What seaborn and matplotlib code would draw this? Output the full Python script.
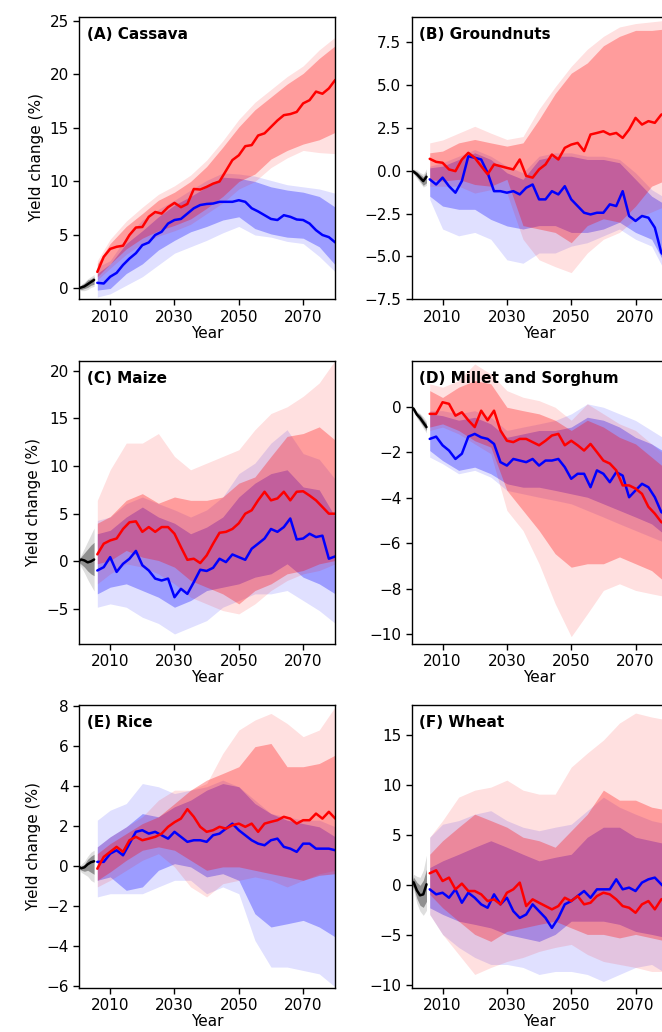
import numpy as np
import pandas as pd
import matplotlib
matplotlib.use("Agg")
import matplotlib.pyplot as plt
import seaborn as sns

# ---------------- data ----------------
hist_years = [2000, 2001, 2002, 2003, 2004, 2005]
line_years = list(range(2006, 2081, 2))
band_years = [2006, 2010, 2015, 2020, 2025, 2030, 2035, 2040, 2045, 2050, 2055, 2060, 2065, 2070, 2075, 2080]

titles = ["(A) Cassava", "(B) Groundnuts", "(C) Maize", "(D) Millet and Sorghum", "(E) Rice", "(F) Wheat"]
ylims = [(-1.0, 25.4), (-7.5, 9.0), (-8.6, 21.0), (-10.4, 2.0), (-6.05, 8.05), (-10.2, 18.0)]
yticks = [[0, 5, 10, 15, 20, 25], [-7.5, -5.0, -2.5, 0.0, 2.5, 5.0, 7.5], [-5, 0, 5, 10, 15, 20],
          [-10, -8, -6, -4, -2, 0], [-6, -4, -2, 0, 2, 4, 6, 8], [-10, -5, 0, 5, 10, 15]]
xticks = [2010, 2030, 2050, 2070]

# ---- (A) Cassava ----
A_hist = [0, 0.1, 0.2, 0.4, 0.6, 0.8]
A_hist_in = ([0, -0.1, 0.0, 0.1, 0.3, 0.4], [0, 0.3, 0.5, 0.8, 0.9, 1.1])
A_hist_out = ([0, -0.2, -0.2, -0.1, 0.1, 0.2], [0, 0.4, 0.6, 0.9, 1.1, 1.3])
A_red = [1.55, 2.96, 3.7, 3.9, 4.0, 5.0, 5.7, 5.75, 6.7, 7.15, 7.0, 7.6, 8.0, 7.6, 7.9, 9.3, 9.25, 9.5, 9.8,
         10.0, 11.0, 12.0, 12.45, 13.3, 13.4, 14.3, 14.5, 15.1, 15.7, 16.2, 16.3, 16.5, 17.3, 17.6, 18.4, 18.2, 18.7, 19.5]
A_blue = [0.53, 0.47, 1.1, 1.46, 2.2, 2.8, 3.3, 4.05, 4.3, 5.0, 5.3, 6.07, 6.4, 6.5, 7.0, 7.5, 7.8, 7.9, 7.94,
          8.1, 8.1, 8.1, 8.25, 8.1, 7.5, 7.2, 6.85, 6.5, 6.4, 6.85, 6.7, 6.45, 6.4, 6.07, 5.45, 5.0, 4.8, 4.3]
A_red_in = ([1.1, 2.3, 3.7, 4.7, 5.4, 5.9, 6.5, 7.5, 8.6, 10.0, 10.7, 12.1, 12.9, 13.5, 13.9, 14.6],
            [2.3, 4.2, 5.8, 7.0, 8.25, 9.0, 10.0, 11.4, 13.2, 15.1, 16.7, 17.9, 19.1, 20.1, 21.5, 22.7])
A_red_out = ([0.8, 1.9, 3.2, 4.2, 4.9, 5.4, 6.0, 7.0, 8.0, 9.3, 10.0, 11.3, 12.2, 12.9, 12.7, 12.6],
             [2.6, 4.6, 6.3, 7.6, 8.8, 9.6, 10.6, 12.0, 13.8, 15.8, 17.4, 18.6, 19.8, 20.8, 22.3, 23.5])
A_blue_in = ([-0.15, 0.0, 1.4, 2.3, 3.6, 4.5, 5.3, 5.8, 6.4, 6.7, 5.6, 5.1, 4.8, 4.7, 3.9, 2.2],
             [1.4, 2.3, 4.2, 5.4, 6.7, 7.8, 8.6, 9.5, 10.4, 10.3, 10.0, 9.5, 9.2, 9.0, 8.6, 7.6])
A_blue_out = ([-0.8, -0.5, 0.3, 1.1, 2.2, 3.3, 3.9, 4.5, 5.2, 5.8, 5.0, 4.8, 4.4, 4.2, 3.0, 1.55],
              [2.0, 2.6, 4.8, 6.4, 7.4, 8.25, 9.2, 10.1, 10.8, 10.7, 10.5, 10.1, 9.7, 9.5, 9.3, 8.9])

# ---- (B) Groundnuts ----
B_hist = [0, -0.05, -0.2, -0.4, -0.6, -0.35]
B_hist_in = ([0, -0.15, -0.35, -0.6, -0.85, -0.7], [0, 0.05, -0.05, -0.2, -0.35, -0.05])
B_hist_out = ([0, -0.2, -0.45, -0.7, -0.95, -0.85], [0, 0.1, 0.05, -0.1, -0.2, 0.1])
B_red = [0.7, 0.52, 0.47, 0.08, -0.02, 0.66, 1.05, 0.76, 0.27, -0.2, 0.37, 0.27, 0.17, 0.08, 0.66, -0.3, -0.4,
         0.08, 0.37, 0.95, 0.66, 1.34, 1.53, 1.63, 1.15, 2.12, 2.21, 2.31, 2.12, 2.21, 1.92, 2.41, 3.09, 2.7, 2.9, 2.8, 3.28, 3.4]
B_blue = [-0.5, -0.8, -0.4, -0.9, -1.28, -0.6, 0.85, 0.76, 0.66, -0.12, -1.19, -1.19, -1.28, -1.19, -1.38, -0.99,
          -0.8, -1.67, -1.67, -1.19, -1.38, -0.9, -1.67, -2.06, -2.45, -2.55, -2.45, -2.45, -1.96, -2.06, -1.19,
          -2.64, -2.93, -2.64, -2.74, -3.32, -4.78, -5.2]
B_red_in = ([-0.5, -0.6, -0.5, -0.8, -0.9, -0.5, -3.2, -3.4, -3.6, -4.2, -3.2, -2.8, -3.0, -2.06, -0.9, -0.5],
            [1.05, 1.15, 1.63, 1.83, 1.63, 1.44, 1.63, 3.0, 4.5, 5.7, 6.3, 7.3, 7.85, 8.2, 8.2, 8.3])
B_red_out = ([-0.9, -0.9, -0.9, -1.3, -1.1, -1.3, -4.0, -5.2, -5.6, -5.95, -4.8, -4.0, -3.6, -2.8, -2.4, -2.0],
             [1.63, 1.8, 2.2, 2.6, 2.2, 1.83, 2.0, 3.6, 4.9, 6.1, 7.1, 7.85, 8.4, 8.6, 8.7, 8.8])
B_blue_in = ([-1.48, -2.06, -2.25, -2.25, -2.84, -3.22, -3.4, -3.2, -3.2, -3.6, -3.6, -3.4, -3.0, -3.6, -4.0, -5.75],
             [0.17, 0.27, 0.66, 1.05, 0.66, -0.12, -0.5, 0.66, 0.85, 0.85, 0.66, 0.66, 0.47, -0.5, -1.48, -2.06])
B_blue_out = ([-1.67, -3.4, -3.8, -3.6, -4.0, -5.2, -5.4, -4.8, -4.8, -4.4, -4.2, -3.8, -3.4, -4.0, -4.4, -6.2],
              [0.27, 0.47, 0.85, 1.24, 0.85, 0.27, -0.12, 0.85, 1.05, 1.05, 0.85, 0.85, 0.66, -0.12, -1.1, -1.67])

# ---- (C) Maize ----
C_hist = [0, 0.2, 0.1, -0.1, 0.0, 0.2]
C_hist_in = ([0, -0.3, -0.6, -1.0, -1.3, -1.5], [0, 0.5, 0.9, 1.3, 1.7, 2.0])
C_hist_out = ([0, -0.6, -1.2, -1.9, -2.5, -3.1], [0, 0.7, 1.4, 2.1, 2.8, 3.5])
C_red = [0.74, 1.86, 2.2, 2.4, 3.4, 4.1, 4.2, 3.1, 3.6, 3.1, 3.6, 3.6, 2.9, 1.5, 0.17, 0.28, -0.17, 0.63, 1.86,
         3.0, 3.1, 3.4, 4.0, 5.0, 5.36, 6.4, 7.3, 6.4, 6.6, 7.3, 6.4, 7.3, 7.35, 6.9, 6.4, 5.7, 5.0, 5.0]
C_blue = [-0.95, -0.6, 0.45, -1.1, -0.25, 0.28, 1.1, -0.4, -0.95, -1.8, -2.0, -1.8, -3.75, -2.87, -3.4, -2.17,
          -0.87, -1.0, -0.67, 0.28, -0.07, 0.73, 0.45, 0.17, 1.33, 1.86, 2.4, 3.4, 3.1, 3.6, 4.5, 2.3, 2.4, 2.9,
          2.55, 2.7, 0.28, 0.53]
C_red_in = ([-0.25, 0.1, 1.15, 0.45, 0.1, -0.6, -2.0, -2.7, -3.4, -4.45, -3.05, -2.35, -1.3, -0.95, -0.25, 0.1],
            [4.0, 4.7, 6.4, 7.1, 6.1, 6.75, 6.4, 6.4, 6.75, 8.2, 8.85, 11.0, 13.1, 13.4, 14.1, 12.7])
C_red_out = ([-2.35, -1.3, -0.25, -0.6, -1.3, -2.35, -3.75, -4.45, -5.15, -5.5, -4.45, -3.05, -2.0, -1.3, -0.95, -0.25],
             [6.4, 9.6, 12.4, 12.4, 13.4, 11.0, 9.6, 10.3, 11.0, 11.7, 13.8, 15.5, 16.2, 17.3, 18.7, 21.1])
C_blue_in = ([-3.4, -2.7, -2.35, -3.05, -3.75, -4.8, -4.1, -3.05, -2.7, -2.35, -1.65, -1.3, -0.25, -1.65, -2.35, -3.4],
             [2.9, 3.26, 4.65, 5.7, 4.65, 4.0, 2.9, 3.6, 4.65, 6.75, 8.2, 9.2, 9.6, 7.8, 7.5, 4.65])
C_blue_out = ([-4.8, -4.45, -4.8, -5.85, -6.5, -7.6, -6.9, -6.2, -4.8, -4.1, -3.4, -3.4, -3.05, -4.1, -5.15, -6.5],
              [4.3, 4.65, 6.05, 6.75, 6.05, 5.4, 4.65, 5.4, 6.75, 9.2, 10.3, 12.4, 13.8, 11.3, 10.7, 8.6])

# ---- (D) Millet and Sorghum ----
D_hist = [0, -0.1, -0.35, -0.5, -0.7, -0.9]
D_hist_in = ([0, -0.15, -0.45, -0.65, -0.85, -1.05], [0, -0.05, -0.25, -0.35, -0.55, -0.75])
D_hist_out = ([0, -0.2, -0.5, -0.7, -0.95, -1.15], [0, 0.0, -0.2, -0.3, -0.45, -0.65])
D_red = [-0.32, -0.32, 0.19, 0.12, -0.4, -0.25, -0.6, -0.9, -0.18, -0.6, -0.18, -1.05, -1.5, -1.56, -1.42, -1.42,
         -1.56, -1.7, -1.5, -1.27, -1.2, -1.7, -1.5, -1.7, -1.93, -1.64, -2.0, -2.37, -2.5, -2.8, -3.46, -3.46,
         -3.6, -3.83, -4.4, -4.7, -5.07, -5.2]
D_blue = [-1.42, -1.32, -1.7, -1.93, -2.3, -2.07, -1.32, -1.2, -1.35, -1.42, -1.64, -2.44, -2.59, -2.3, -2.37,
          -2.44, -2.3, -2.59, -2.37, -2.37, -2.3, -2.66, -3.17, -2.95, -2.95, -3.54, -2.8, -2.95, -3.32, -2.88,
          -3.03, -3.98, -3.68, -3.39, -3.54, -3.98, -4.63, -4.8]
D_red_in = ([-0.9, -0.76, -1.05, -1.5, -1.78, -3.68, -4.56, -5.44, -6.46, -7.05, -6.9, -6.9, -6.6, -6.9, -7.2, -7.8],
            [0.7, 0.4, 0.85, 1.14, 1.0, -0.03, -0.18, -0.32, -0.6, -1.05, -0.6, -0.9, -1.35, -1.64, -2.22, -2.8])
D_red_out = ([-1.05, -0.9, -1.2, -1.64, -2.07, -4.56, -5.44, -6.9, -8.65, -10.1, -9.1, -8.07, -7.78, -8.07, -8.22, -8.36],
             [1.0, 0.85, 1.14, 1.87, 1.43, 0.7, 0.41, 0.26, -0.03, -0.6, 0.12, -0.32, -0.76, -1.05, -1.64, -2.22])
D_blue_in = ([-1.93, -2.37, -2.8, -2.66, -2.95, -3.39, -3.54, -3.54, -3.68, -3.83, -3.98, -4.27, -4.56, -4.85, -5.15, -5.73],
             [-0.32, -0.4, -0.6, -0.47, -0.76, -1.35, -1.2, -1.05, -1.05, -0.9, -0.47, -0.6, -0.9, -1.35, -1.64, -2.07])
D_blue_out = ([-2.22, -2.51, -2.95, -2.8, -3.1, -3.68, -3.83, -3.98, -4.12, -4.27, -4.56, -4.85, -5.15, -5.44, -5.73, -6.02],
              [-0.18, -0.18, -0.32, -0.18, -0.47, -1.05, -0.9, -0.76, -0.61, -0.32, 0.12, -0.03, -0.32, -0.61, -1.05, -1.49])

# ---- (E) Rice ----
E_hist = [0, -0.1, -0.05, 0.1, 0.2, 0.25]
E_hist_in = ([0, -0.2, -0.25, -0.2, -0.3, -0.4], [0, 0.0, 0.1, 0.35, 0.5, 0.6])
E_hist_out = ([0, -0.3, -0.4, -0.5, -0.7, -0.8], [0, 0.1, 0.25, 0.5, 0.7, 0.8])
E_red = [-0.12, 0.47, 0.72, 0.97, 0.72, 1.3, 1.47, 1.3, 1.38, 1.47, 1.63, 1.97, 2.2, 2.38, 2.85, 2.47, 1.97,
         1.72, 1.8, 1.97, 1.88, 2.05, 2.13, 1.97, 2.13, 1.72, 2.13, 2.22, 2.3, 2.47, 2.38, 2.13, 2.3, 2.3, 2.63,
         2.38, 2.72, 2.38]
E_blue = [0.22, 0.22, 0.63, 0.8, 0.55, 1.13, 1.72, 1.8, 1.63, 1.72, 1.55, 1.38, 1.72, 1.47, 1.22, 1.3, 1.3, 1.22,
          1.55, 1.63, 1.88, 2.13, 1.8, 1.55, 1.3, 1.13, 1.05, 1.3, 1.38, 0.97, 0.88, 0.72, 1.13, 1.13, 0.88, 0.88,
          0.88, 0.8]
E_red_in = ([-0.7, -0.28, 0.3, 0.8, 0.97, 0.8, 0.3, -0.2, -0.03, -0.03, -0.2, -0.37, -0.53, -0.7, -0.45, -0.37],
            [0.63, 1.13, 1.63, 2.13, 2.47, 3.13, 3.8, 4.3, 4.63, 4.97, 5.97, 6.13, 4.97, 4.97, 5.13, 5.55])
E_red_out = ([-1.03, -0.7, -0.2, 0.3, 0.63, -0.03, -1.03, -1.53, -0.87, -0.7, -0.53, -0.7, -1.03, -0.7, -0.37, -0.2],
             [0.97, 1.47, 1.97, 2.47, 3.3, 3.8, 3.8, 4.13, 5.63, 6.8, 7.3, 7.63, 7.13, 6.47, 6.8, 7.97])
E_blue_in = ([-0.7, -0.53, -1.2, -1.03, -0.2, 0.13, -0.03, -0.53, -0.37, -0.7, -2.37, -3.03, -2.87, -2.7, -3.03, -3.53],
             [0.97, 1.47, 1.97, 2.63, 2.47, 2.97, 3.3, 3.8, 4.13, 3.97, 3.13, 2.63, 2.3, 2.13, 1.97, 1.47])
E_blue_out = ([-1.53, -1.37, -1.37, -1.37, -1.03, -0.7, -0.7, -1.37, -1.03, -1.37, -3.7, -5.03, -5.03, -5.2, -5.37, -6.03],
              [2.3, 2.8, 3.13, 4.13, 3.97, 3.63, 3.8, 3.97, 4.3, 3.97, 3.3, 2.63, 2.47, 2.3, 2.3, 1.97])

# ---- (F) Wheat ----
F_hist = [0, 0.3, -0.5, -1.0, -0.9, 0.1]
F_hist_in = ([0, -0.2, -1.3, -2.0, -2.2, -1.6], [0, 0.8, 0.3, 0.0, 0.5, 1.6])
F_hist_out = ([0, -0.5, -1.8, -2.6, -3.0, -2.5], [0, 1.1, 0.9, 0.8, 1.5, 3.0])
F_red = [1.2, 1.5, 0.43, 0.77, -0.4, 0.17, -0.57, -0.57, -0.9, -1.57, -1.4, -1.9, -0.74, -0.4, 0.27, -2.07, -1.4,
         -1.74, -2.07, -2.4, -2.07, -1.24, -1.57, -1.07, -1.9, -1.74, -1.07, -0.74, -0.9, -1.4, -2.07, -2.24,
         -2.74, -1.9, -1.57, -2.4, -1.4, -1.2]
F_blue = [-0.4, -0.9, -0.74, -1.24, -0.4, -1.74, -0.74, -1.24, -1.9, -2.24, -0.9, -1.9, -1.24, -2.58, -3.25,
          -2.91, -1.9, -2.58, -3.25, -4.25, -3.25, -1.9, -1.57, -1.07, -0.57, -1.24, -0.4, -0.4, -0.4, 0.6, -0.4,
          -0.23, -0.57, 0.27, 0.6, 0.77, 0.1, -0.5]
F_red_in = ([-0.9, -2.24, -3.58, -4.9, -5.6, -4.6, -4.25, -3.9, -3.58, -4.25, -4.9, -4.9, -5.25, -4.9, -5.25, -5.6],
            [3.1, 4.45, 5.8, 7.1, 6.46, 5.8, 4.8, 4.45, 3.8, 5.45, 7.1, 9.5, 8.5, 8.5, 7.8, 7.5])
F_red_out = ([-2.91, -4.9, -6.9, -8.9, -8.2, -7.6, -7.2, -6.6, -6.2, -5.9, -6.9, -7.6, -7.9, -8.2, -8.6, -8.6],
             [4.8, 6.46, 8.8, 9.5, 9.8, 10.5, 9.5, 9.1, 9.1, 11.8, 13.2, 14.5, 16.2, 17.2, 16.8, 16.5])
F_blue_in = ([-2.24, -2.9, -3.58, -3.9, -4.25, -4.9, -5.25, -5.6, -4.9, -3.58, -3.58, -3.58, -3.9, -4.6, -4.9, -5.25],
             [1.77, 2.44, 3.1, 3.8, 4.45, 3.8, 3.1, 2.44, 2.8, 3.1, 4.8, 5.8, 5.8, 4.8, 4.45, 4.1])
F_blue_out = ([-2.91, -4.9, -6.2, -7.2, -7.9, -7.9, -8.2, -8.9, -8.6, -8.6, -8.9, -9.6, -8.9, -8.2, -7.9, -8.9],
              [4.8, 6.1, 6.46, 7.1, 7.45, 6.46, 5.8, 5.45, 5.8, 6.1, 7.45, 8.8, 7.8, 7.1, 6.46, 6.1])

panels = [
    (A_hist, A_hist_in, A_hist_out, A_red, A_blue, A_red_in, A_red_out, A_blue_in, A_blue_out),
    (B_hist, B_hist_in, B_hist_out, B_red, B_blue, B_red_in, B_red_out, B_blue_in, B_blue_out),
    (C_hist, C_hist_in, C_hist_out, C_red, C_blue, C_red_in, C_red_out, C_blue_in, C_blue_out),
    (D_hist, D_hist_in, D_hist_out, D_red, D_blue, D_red_in, D_red_out, D_blue_in, D_blue_out),
    (E_hist, E_hist_in, E_hist_out, E_red, E_blue, E_red_in, E_red_out, E_blue_in, E_blue_out),
    (F_hist, F_hist_in, F_hist_out, F_red, F_blue, F_red_in, F_red_out, F_blue_in, F_blue_out),
]

# ---------------- plotting ----------------
sns.set_style("ticks")
plt.rcParams['font.family'] = ['DejaVu Sans']
plt.rcParams['axes.edgecolor'] = 'black'
plt.rcParams['axes.linewidth'] = 1.0
plt.rcParams['xtick.color'] = 'black'
plt.rcParams['ytick.color'] = 'black'
plt.rcParams['xtick.labelcolor'] = 'black'
plt.rcParams['ytick.labelcolor'] = 'black'
plt.rcParams['text.color'] = 'black'
plt.rcParams['axes.labelcolor'] = 'black'

fig = plt.figure(figsize=(6.62, 10.32), dpi=100)
W, H = 662.0, 1032.0
col_x = [79.3, 411.7]
row_top = [16.7, 361.0, 705.0]
aw, ah = 256.0, 282.5

OUT_A, IN_A = 0.12, 0.30

for i, (hist, hist_in, hist_out, red, blue, red_in, red_out, blue_in, blue_out) in enumerate(panels):
    r, c = divmod(i, 2)
    ax = fig.add_axes([col_x[c] / W, 1 - (row_top[r] + ah) / H, aw / W, ah / H])

    # historical
    ax.fill_between(hist_years, hist_out[0], hist_out[1], color='black', alpha=0.13, lw=0)
    ax.fill_between(hist_years, hist_in[0], hist_in[1], color='black', alpha=0.35, lw=0)
    # projection bands (blue first, red on top)
    ax.fill_between(band_years, blue_out[0], blue_out[1], color='blue', alpha=OUT_A, lw=0)
    ax.fill_between(band_years, blue_in[0], blue_in[1], color='blue', alpha=IN_A, lw=0)
    ax.fill_between(band_years, red_out[0], red_out[1], color='red', alpha=OUT_A, lw=0)
    ax.fill_between(band_years, red_in[0], red_in[1], color='red', alpha=IN_A, lw=0)

    df = pd.concat([
        pd.DataFrame({'Year': hist_years, 'val': hist, 'scen': 'hist'}),
        pd.DataFrame({'Year': line_years, 'val': blue, 'scen': 'low'}),
        pd.DataFrame({'Year': line_years, 'val': red, 'scen': 'high'}),
    ], ignore_index=True)
    sns.lineplot(data=df, x='Year', y='val', hue='scen', units='scen', estimator=None,
                 hue_order=['hist', 'low', 'high'],
                 palette={'hist': 'black', 'high': 'red', 'low': 'blue'},
                 lw=1.8, legend=False, ax=ax)

    ax.set_xlim(2000.4, 2080)
    ax.set_ylim(*ylims[i])
    ax.set_xticks(xticks)
    ax.set_yticks(yticks[i])
    if i == 1:
        ax.set_yticklabels(['−7.5', '−5.0', '−2.5', '0.0', '2.5', '5.0', '7.5'])
    ax.tick_params(labelsize=11, length=4, width=1, direction='out')
    ax.set_xlabel('Year', fontsize=11, labelpad=1)
    if c == 0:
        ax.set_ylabel('Yield change (%)', fontsize=11)
    else:
        ax.set_ylabel('')
    for s in ax.spines.values():
        s.set_visible(True)
        s.set_color('black')
    ax.text(0.03, 0.965, titles[i], transform=ax.transAxes, ha='left', va='top',
            fontsize=11, fontweight='bold', color='black')

fig.savefig('out.png', dpi=100)
